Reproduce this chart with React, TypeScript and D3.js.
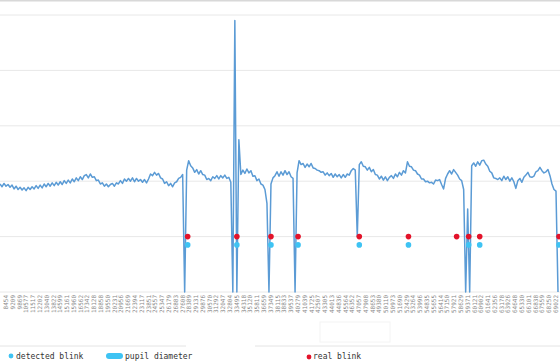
import * as d3 from 'd3';

// x tick labels (sample timestamps)
const tickLabels = [
  '8454', '9209', '9869', '10577', '11517', '12202', '13040', '13822', '14599', '15161',
  '15960', '16562', '17342', '18128', '18858', '19550', '20231', '20956', '21669', '22394',
  '23117', '23851', '24557', '25347', '26179', '26883', '27608', '28389', '29131', '29876',
  '30570', '31292', '32047', '32804', '33495', '34318', '35120', '35811', '36659', '37349',
  '38115', '38833', '39537', '40279', '41039', '41725', '42507', '43305', '44013', '44836',
  '45564', '46352', '47057', '47908', '48653', '49380', '50110', '50973', '51690', '52429',
  '53264', '53996', '54835', '55655', '56414', '57150', '57921', '58629', '59371', '60121',
  '60902', '61641', '62356', '63178', '63926', '64648', '65330', '66101', '66838', '67559',
  '68250', '69022',
];

// pupil diameter, one value per sample
const pupilDiameter = [
  1.95, 1.90, 1.96, 1.91, 1.94, 1.89, 1.93, 1.86, 1.91, 1.85, 1.89, 1.84, 1.88, 1.83, 1.89,
  1.85, 1.90, 1.86, 1.92, 1.87, 1.93, 1.88, 1.95, 1.90, 1.96, 1.91, 1.97, 1.92, 1.98, 1.93,
  1.99, 1.94, 2.01, 1.96, 2.02, 1.97, 2.04, 1.99, 2.06, 2.01, 2.08, 2.03, 2.10, 2.12, 2.06,
  2.13, 2.07, 2.08, 2.01, 2.02, 1.95, 1.97, 1.91, 1.95, 1.90, 1.94, 1.96, 1.91, 1.97, 1.95,
  2.01, 1.96, 2.04, 2.00, 2.05, 2.00, 2.06, 1.99, 2.05, 2.00, 2.03, 1.98, 2.03, 1.97, 2.04,
  2.13, 2.10, 2.16, 2.11, 2.14, 2.06, 2.04, 1.96, 1.99, 1.92, 1.96, 1.90, 1.97, 1.99,
  2.05, 2.07, 2.12, 0, 2.20, 2.37, 2.28, 2.24, 2.16, 2.21, 2.13, 2.19, 2.12, 2.11, 2.03,
  2.05, 2.01, 2.08, 2.05, 2.10, 2.04, 2.10, 2.06, 2.11, 2.05, 2.07, 1.98, 0, 4.9, 0,
  2.75, 2.12, 2.20, 2.14, 2.22, 2.15, 2.19, 2.09, 2.10, 2.01, 2.04, 1.95, 1.93, 1.85, 1.60,
  0, 1.95, 2.06, 2.10, 2.17, 2.09, 2.17, 2.11, 2.19, 2.12, 2.17, 2.08, 2.05, 0, 2.15,
  2.37, 2.30, 2.32, 2.25, 2.31, 2.26, 2.32, 2.24, 2.23, 2.20, 2.19, 2.16, 2.17, 2.11, 2.15,
  2.10, 2.14, 2.07, 2.13, 2.08, 2.12, 2.06, 2.12, 2.07, 2.13, 2.11, 2.19, 2.23, 2.20, 1.0,
  2.30, 2.35, 2.27, 2.26, 2.20, 2.25, 2.17, 2.21, 2.12, 2.11, 2.04, 2.09, 2.02, 2.08, 2.01,
  2.07, 2.10, 2.05, 2.13, 2.08, 2.16, 2.11, 2.19, 2.15, 2.35, 2.27, 2.26, 2.20, 2.19, 2.13,
  2.11, 2.04, 2.04, 1.99, 2.00, 1.97, 1.98, 1.95, 2.02, 2.01, 2.03, 1.94, 1.86, 2.05, 2.13,
  2.19, 2.13, 2.21, 2.16, 2.11, 2.04, 2.01, 1.85, 0, 1.5, 0, 2.28, 2.33, 2.27, 2.35,
  2.29, 2.37, 2.38, 2.31, 2.27, 2.18, 2.15, 2.06, 2.05, 2.03, 2.06, 2.01, 2.09, 2.03, 2.08,
  2.00, 2.06, 1.99, 1.87, 2.01, 2.05, 1.98, 2.07, 2.11, 2.16, 2.08, 2.07, 2.09, 2.17, 2.19,
  2.25, 2.19, 2.15, 2.17, 2.21, 2.10, 1.95, 1.85, 1.82, 0,
];

// blink events (sample index) and the level they are drawn at
const detectedBlinks = [93.5, 118, 135, 148.5, 179, 203.5, 233.5, 239, 278.5];
const realBlinks = [93.5, 118, 135, 148.5, 179, 203.5, 227.5, 233.5, 239, 278.5];
const detectedLevel = 0.85;
const realLevel = 1.0;

const yTicks = [0, 1, 2, 3, 4, 5];

const W = 560;
const H = 364;
const font = '"DejaVu Sans Mono", monospace';

export default function App() {
  const x = d3.scaleLinear().domain([0, pupilDiameter.length - 1]).range([0, 558]);
  const y = d3.scaleLinear().domain([0, 5]).range([292, 15]);
  const xLab = d3.scalePoint<string>().domain(tickLabels).range([6, 556]);

  const line = d3.line<number>()
    .x((_, i) => x(i))
    .y(d => y(d));

  return (
    <svg width={W} height={H} style={{ position: 'fixed', left: 0, top: 0, background: '#fff' }}>
      <line x1={0} x2={W} y1={0.5} y2={0.5} stroke="#d8d8d8" strokeWidth={2} />
      {yTicks.map(t => (
        <line key={t} x1={0} x2={W} y1={y(t)} y2={y(t)} stroke="#e8e8e8" strokeWidth={1} />
      ))}
      <path d={line(pupilDiameter) ?? ''} fill="none" stroke="#5b9bd5" strokeWidth={1.5} strokeLinejoin="round" />
      {realBlinks.map((b, i) => (
        <circle key={'r' + i} cx={x(b)} cy={y(realLevel)} r={2.8} fill="#e3132a" />
      ))}
      {detectedBlinks.map((b, i) => (
        <circle key={'d' + i} cx={x(b)} cy={y(detectedLevel)} r={2.8} fill="#3ec3f3" />
      ))}
      {tickLabels.map(l => (
        <text key={l} transform={`translate(${xLab(l)! + 2},295) rotate(-90)`} textAnchor="end"
          fontSize={6} fontFamily={font} fill="#888">{l}</text>
      ))}
      <rect x={320} y={322} width={70} height={20} fill="none" stroke="#f4f4f4" />
      <line x1={0} x2={186} y1={346} y2={346} stroke="#e4e4e4" />
      <line x1={255} x2={W} y1={346} y2={346} stroke="#e4e4e4" />
      <g fontFamily={font} fontSize={8} fill="#333">
        <circle cx={11} cy={356} r={2.4} fill="#3ec3f3" />
        <text x={16} y={359}>detected blink</text>
        <rect x={106} y={353} width={17} height={6} rx={3} fill="#3ec3f3" />
        <text x={125} y={359}>pupil diameter</text>
        <circle cx={309} cy={357} r={2.4} fill="#e3132a" />
        <text x={313} y={359}>real blink</text>
      </g>
    </svg>
  );
}
